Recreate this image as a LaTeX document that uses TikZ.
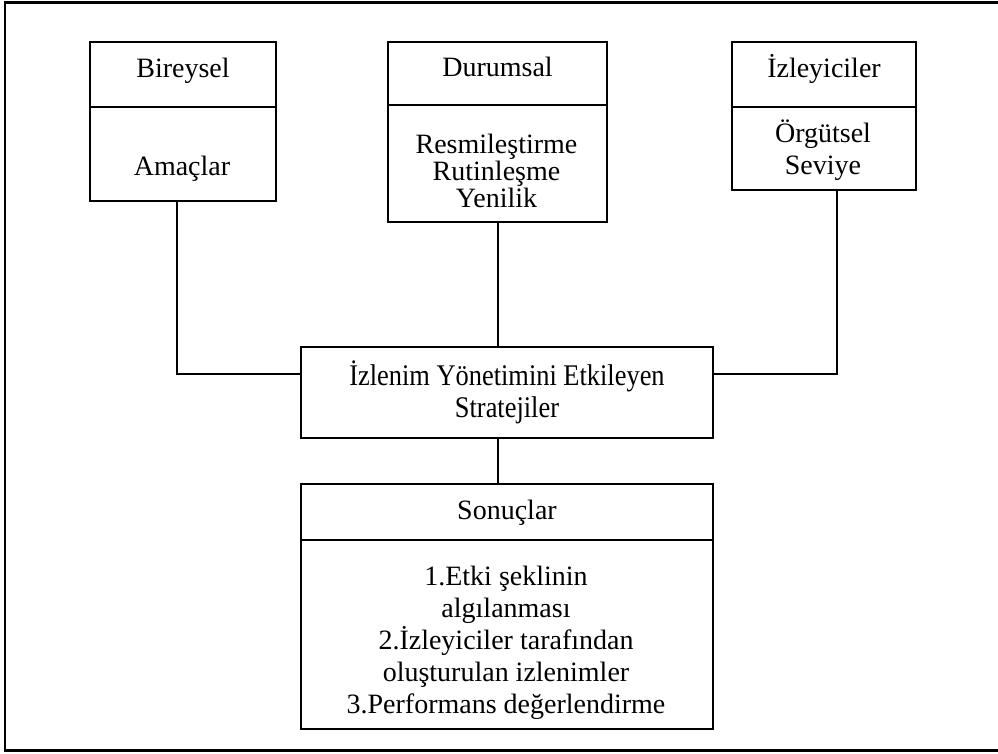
\documentclass[tikz,border=0pt]{standalone}
\usepackage{fontspec}
\setmainfont{Liberation Serif}
\newfontfamily\narrowserif{Liberation Serif}[FakeStretch=0.88]

\begin{document}
\begin{tikzpicture}[x=1pt,y=-1pt,
font=\fontsize{28}{32}\selectfont,
line width=2pt,
b/.style={draw,anchor=north west,inner sep=0pt},
hd/.style={b,text height=19pt,text depth=12pt},
t/.style={align=center,inner sep=0pt,anchor=north},
]
\useasboundingbox(0,0)rectangle(998,754);
%frame
\draw[line width=2.6pt](5,2.5)rectangle(1010,750.5);
%Bireysel
\node[hd,minimum width=186,minimum height=65](birh)at(89,41){Bireysel};
\node[b,minimum width=186,minimum height=94](birb)at(89,106){};
\node[anchor=base,inner sep=0pt](amac)at(182,176){Amaçlar};
%Durumsal
\node[hd,minimum width=219,minimum height=63](durh)at(387,41){Durumsal};
\node[b,minimum width=219,minimum height=117](durb)at(387,104){};
\node[t,font=\fontsize{28}{27}\selectfont](durt)at(496.5,133){Resmileştirme\\Rutinleşme\\Yenilik};
%Izleyiciler
\node[hd,minimum width=184,minimum height=65](izh)at(731,41){İzleyiciler};
\node[b,minimum width=184,minimum height=83](izb)at(731,106){};
\node[t](izt)at(823,119){Örgütsel\\Seviye};
%Stratejiler
\node[b,minimum width=412,minimum height=91,align=center,
font=\narrowserif\fontsize{30}{32}\selectfont](strat)at(300,346){İzlenim Yönetimini Etkileyen\\Stratejiler};
%Sonuclar
\node[hd,text depth=5pt,minimum width=412,minimum height=56](sonh)at(300,483){Sonuçlar};
\node[b,minimum width=412,minimum height=189](sonb)at(300,539){};
\node[t](sont)at(506,565){1.Etki şeklinin\\algılanması\\2.İzleyiciler tarafından\\oluşturulan izlenimler\\3.Performans değerlendirme};
%connectors
\draw(birb.-97)|-(strat.175);
\draw(izb.-73)|-(strat.5);
\draw(durb.south)--(strat.north-|durb.south);
\draw(strat.south-|durb.south)--(sonh.north-|durb.south);
\end{tikzpicture}
\end{document}
